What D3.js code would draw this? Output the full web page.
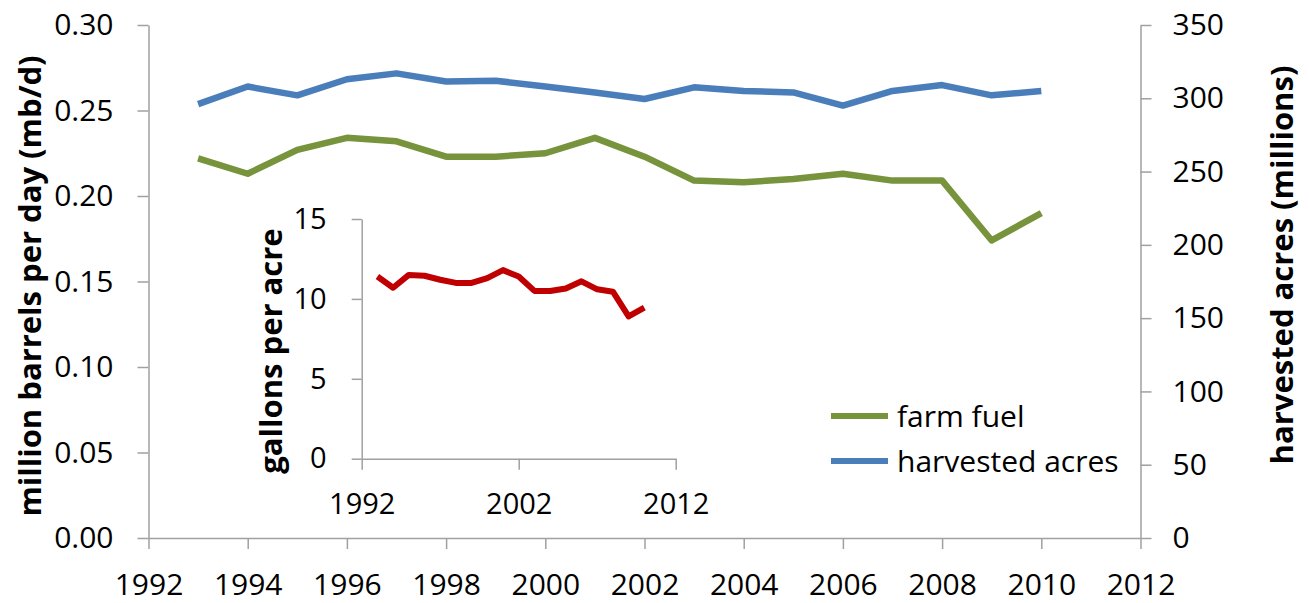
<!DOCTYPE html>
<html lang="en">
<head>
<meta charset="UTF-8">
<title>farm fuel and harvested acres</title>
<script src="https://d3js.org/d3.v7.min.js"></script>
<style>
body { margin: 0; background: #fff; }
#chart text { font-family: "Open Sans", sans-serif; fill: #000; }
.axis path, .axis line { stroke: #a0a0a0; stroke-width: 1.5; }
</style>
</head>
<body>
<div id="chart"></div>
<script>
// values
var years = [1993, 1994, 1995, 1996, 1997, 1998, 1999, 2000, 2001, 2002, 2003, 2004, 2005, 2006, 2007, 2008, 2009, 2010];
var farmFuel = [0.222, 0.213, 0.227, 0.234, 0.232, 0.223, 0.223, 0.225, 0.234, 0.223, 0.209, 0.208, 0.210, 0.213, 0.209, 0.209, 0.174, 0.190];
var harvestedAcres = [296, 308, 302, 313, 317, 311.5, 312, 308, 304, 299.5, 307.5, 305, 304, 295, 305, 309, 302, 305];
var gallonsPerAcre = [11.4, 10.7, 11.5, 11.45, 11.2, 11.0, 11.0, 11.3, 11.8, 11.4, 10.5, 10.5, 10.65, 11.1, 10.6, 10.45, 8.9, 9.45];

var xTicks = [1992, 1994, 1996, 1998, 2000, 2002, 2004, 2006, 2008, 2010, 2012];
var leftTicks = [0, 0.05, 0.10, 0.15, 0.20, 0.25, 0.30];
var rightTicks = [0, 50, 100, 150, 200, 250, 300, 350];
var insetXTicks = [1992, 2002, 2012];
var insetYTicks = [0, 5, 10, 15];

var legendNames = ["farm fuel", "harvested acres"];
var green = "#77933c", blue = "#4a7ebb", red = "#c00000";

var width = 1309, height = 603;
var svg = d3.select("#chart").append("svg")
    .attr("width", width)
    .attr("height", height);

// main chart scales
var x = d3.scaleLinear().domain([1992, 2012]).range([148.5, 1140.5]);
var yL = d3.scaleLinear().domain([0, 0.30]).range([538, 25]);
var yR = d3.scaleLinear().domain([0, 350]).range([538, 25]);

svg.append("g").attr("class", "axis")
    .attr("transform", "translate(0,538)")
    .call(d3.axisBottom(x).tickValues(xTicks).tickFormat(d3.format("d"))
        .tickSizeInner(11).tickSizeOuter(0).tickPadding(25))
    .selectAll("text").attr("font-size", 30);

svg.append("g").attr("class", "axis")
    .attr("transform", "translate(148.5,0)")
    .call(d3.axisLeft(yL).tickValues(leftTicks).tickFormat(d3.format(".2f"))
        .tickSizeInner(11).tickSizeOuter(0).tickPadding(24))
    .selectAll("text").attr("font-size", 30);

svg.append("g").attr("class", "axis")
    .attr("transform", "translate(1140.5,0)")
    .call(d3.axisRight(yR).tickValues(rightTicks).tickFormat(d3.format("d"))
        .tickSizeInner(11).tickSizeOuter(0).tickPadding(21))
    .selectAll("text").attr("font-size", 30);

svg.selectAll(".axis .domain").attr("fill", "none");

// axis titles
svg.append("text")
    .attr("transform", "translate(30,286) rotate(-90)")
    .attr("text-anchor", "middle").attr("dy", "0.35em")
    .attr("font-size", 31).attr("font-weight", "bold")
    .text("million barrels per day (mb/d)");

svg.append("text")
    .attr("transform", "translate(1282,265) rotate(-90)")
    .attr("text-anchor", "middle").attr("dy", "0.35em")
    .attr("font-size", 31).attr("font-weight", "bold")
    .text("harvested acres (millions)");

var fuelLine = d3.line()
    .x(function(d, i) { return x(years[i]); })
    .y(function(d) { return yL(d); });
var acreLine = d3.line()
    .x(function(d, i) { return x(years[i]); })
    .y(function(d) { return yR(d); });

svg.append("path").datum(harvestedAcres)
    .attr("d", acreLine)
    .attr("fill", "none").attr("stroke", blue)
    .attr("stroke-width", 6.5).attr("stroke-linejoin", "round");

svg.append("path").datum(farmFuel)
    .attr("d", fuelLine)
    .attr("fill", "none").attr("stroke", green)
    .attr("stroke-width", 6.5).attr("stroke-linejoin", "round");

// legend
var legend = svg.selectAll(".legend")
    .data(legendNames)
    .enter().append("g")
    .attr("class", "legend")
    .attr("transform", function(d, i) { return "translate(831," + (416 + i * 45) + ")"; });

legend.append("line")
    .attr("x1", 0).attr("x2", 57)
    .attr("stroke", function(d, i) { return i == 0 ? green : blue; })
    .attr("stroke-width", 6);

legend.append("text")
    .attr("x", 66).attr("dy", "0.35em")
    .attr("font-size", 30)
    .text(function(d) { return d; });

// inset chart
var xi = d3.scaleLinear().domain([1992, 2012]).range([361.7, 675.7]);
var yi = d3.scaleLinear().domain([0, 15]).range([458.7, 219]);

svg.append("g").attr("class", "axis")
    .attr("transform", "translate(0,458.7)")
    .call(d3.axisBottom(xi).tickValues(insetXTicks).tickFormat(d3.format("d"))
        .tickSizeInner(11).tickSizeOuter(0).tickPadding(24))
    .selectAll("text").attr("font-size", 29);

svg.append("g").attr("class", "axis")
    .attr("transform", "translate(361.7,0)")
    .call(d3.axisLeft(yi).tickValues(insetYTicks)
        .tickSizeInner(10).tickSizeOuter(0).tickPadding(25))
    .selectAll("text").attr("font-size", 29);

svg.selectAll(".axis .domain").attr("fill", "none");

svg.append("text")
    .attr("transform", "translate(271,351) rotate(-90)")
    .attr("text-anchor", "middle").attr("dy", "0.35em")
    .attr("font-size", 31).attr("font-weight", "bold")
    .text("gallons per acre");

var gallonLine = d3.line()
    .x(function(d, i) { return xi(years[i]); })
    .y(function(d) { return yi(d); });

svg.append("path").datum(gallonsPerAcre)
    .attr("d", gallonLine)
    .attr("fill", "none").attr("stroke", red)
    .attr("stroke-width", 6).attr("stroke-linejoin", "round");
</script>
</body>
</html>
